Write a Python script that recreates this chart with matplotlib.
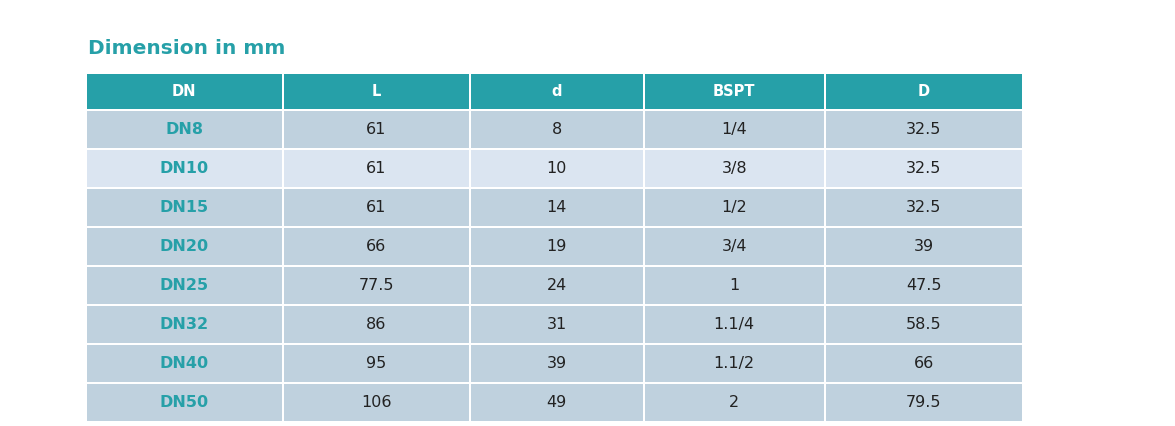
import matplotlib.pyplot as plt
from matplotlib.patches import Rectangle

headers = ['DN', 'L', 'd', 'BSPT', 'D']
dn = ['DN8', 'DN10', 'DN15', 'DN20', 'DN25', 'DN32', 'DN40', 'DN50']
length = ['61', '61', '61', '66', '77.5', '86', '95', '106']
bore = ['8', '10', '14', '19', '24', '31', '39', '49']
bspt = ['1/4', '3/8', '1/2', '3/4', '1', '1.1/4', '1.1/2', '2']
outer = ['32.5', '32.5', '32.5', '39', '47.5', '58.5', '66', '79.5']

teal = '#26a0a8'
row_dark = '#bfd1de'
row_light = '#dbe5f1'

W, H = 1175, 426
fig = plt.figure(figsize=(W / 100, H / 100), dpi=100)
ax = fig.add_axes([0, 0, 1, 1])
ax.set_xlim(0, W)
ax.set_ylim(H, 0)
ax.axis('off')

col_x = [87, 284, 471, 645, 826, 1024]
top, head_h, row_h, gap = 74, 37, 39, 2.5

ax.text(88, 48, 'Dimension in mm', color=teal, fontsize=14.5, fontweight='bold',
        va='center', ha='left')

columns = [dn, length, bore, bspt, outer]
for c, name in enumerate(headers):
    x0, x1 = col_x[c], col_x[c + 1]
    ax.add_patch(Rectangle((x0, top), x1 - x0 - gap, head_h - gap, color=teal, lw=0))
    ax.text((x0 + x1 - gap) / 2, top + (head_h - gap) / 2, name, color='white',
            fontsize=10.5, fontweight='bold', ha='center', va='center')
    for r, val in enumerate(columns[c]):
        y0 = top + head_h + r * row_h
        color = row_light if r == 1 else row_dark
        ax.add_patch(Rectangle((x0, y0), x1 - x0 - gap, row_h - gap, color=color, lw=0))
        if c == 0:
            ax.text((x0 + x1 - gap) / 2, y0 + (row_h - gap) / 2, val, color=teal,
                    fontsize=11.5, fontweight='bold', ha='center', va='center')
        else:
            ax.text((x0 + x1 - gap) / 2, y0 + (row_h - gap) / 2, val, color='#222222',
                    fontsize=11.5, ha='center', va='center')

fig.savefig('out.png', dpi=100)
